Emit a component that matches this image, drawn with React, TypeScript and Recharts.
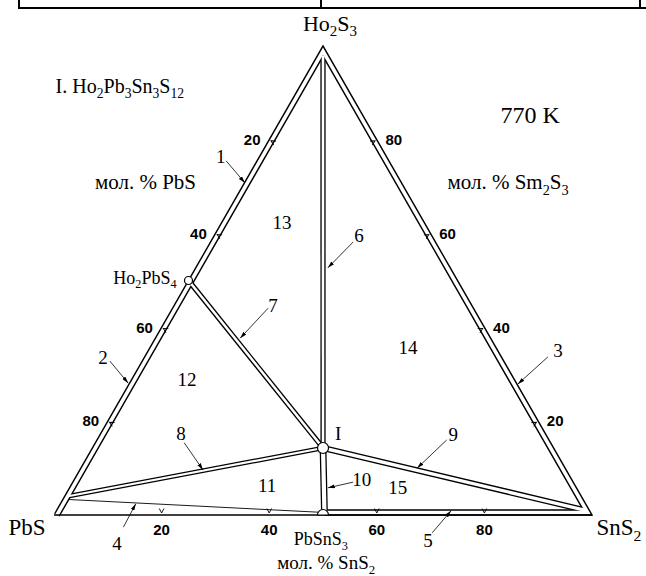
import { ScatterChart, Scatter, XAxis, YAxis } from 'recharts';

// compositions in mol %: [Ho2S3, SnS2], PbS is the rest
type Comp = [number, number];

const PHASE_I: Comp = [14.29, 42.86]; // Ho2Pb3Sn3S12
const HO2PBS4: Comp = [50, 0];
const PBSNS3: Comp = [0, 50];

const frameEdges: Comp[] = [[0, 0.54], [98.92, 0.54], [0.54, 98.92], [0.54, 50]];
const tie6: Comp[] = [[98, 1], PHASE_I];
const tie7: Comp[] = [HO2PBS4, PHASE_I];
const tie8: Comp[] = [[4, 0.6], PHASE_I];
const tie9: Comp[] = [PHASE_I, [1, 98.3]];
const tie10: Comp[] = [PHASE_I, [0.54, 50]];
const line4: Comp[] = [[3.3, 1.1], [0.6, 48.8]];
const baseEdge: Comp[] = [[0, 0], [0, 100]];

const tickValues = [20, 40, 60, 80];

// text placed in plot space (x: 0..100 along the base, y: 0..100 up to the apex)
const titles = [
  { text: 'Ho_2S_3', x: 51.3, y: 104.9, size: 22 },
  { text: 'I. Ho_2Pb_3Sn_3S_12', x: 0.3, y: 91.5, size: 20, anchor: 'start' },
  { text: '770 K', x: 88.5, y: 85.3, size: 24 },
  { text: 'мол. % PbS', x: 17.0, y: 71.0, size: 21 },
  { text: 'мол. % Sm_2S_3', x: 84.4, y: 71.0, size: 21 },
  { text: 'Ho_2PbS_4', x: 16.9, y: 50.7, size: 18 },
  { text: 'PbS', x: -5.0, y: -2.6, size: 23 },
  { text: 'SnS_2', x: 105.0, y: -2.6, size: 23 },
  { text: 'PbSnS_3', x: 49.6, y: -5.1, size: 18 },
  { text: 'мол. % SnS_2', x: 50.6, y: -10.1, size: 19 },
];

const numbers = [
  { text: '13', x: 42.4, y: 62.5 },
  { text: '14', x: 65.8, y: 35.8 },
  { text: '12', x: 24.7, y: 29.0 },
  { text: '11', x: 39.6, y: 6.4 },
  { text: '15', x: 63.9, y: 6.0 },
  { text: '1', x: 31.0, y: 76.5 },
  { text: '2', x: 9.1, y: 33.7 },
  { text: '3', x: 93.7, y: 35.2 },
  { text: '4', x: 11.7, y: -6.0 },
  { text: '5', x: 69.5, y: -5.3 },
  { text: '6', x: 56.7, y: 59.7 },
  { text: '7', x: 40.7, y: 44.8 },
  { text: '8', x: 23.6, y: 17.5 },
  { text: '9', x: 74.2, y: 17.1 },
  { text: '10', x: 57.2, y: 7.7 },
  { text: 'I', x: 52.8, y: 17.5 },
];

const leaders = [
  [{ x: 32.0, y: 75.5 }, { x: 35.5, y: 70.8 }],
  [{ x: 10.4, y: 32.8 }, { x: 13.8, y: 28.1 }],
  [{ x: 91.8, y: 33.7 }, { x: 86.2, y: 27.9 }],
  [{ x: 12.9, y: -2.6 }, { x: 15.2, y: 2.4 }],
  [{ x: 70.3, y: -3.8 }, { x: 73.8, y: 0.9 }],
  [{ x: 55.6, y: 58.2 }, { x: 50.9, y: 52.7 }],
  [{ x: 39.8, y: 44.1 }, { x: 34.6, y: 37.7 }],
  [{ x: 24.2, y: 15.4 }, { x: 27.7, y: 9.6 }],
  [{ x: 73.0, y: 16.0 }, { x: 67.5, y: 10.0 }],
  [{ x: 55.6, y: 7.0 }, { x: 50.9, y: 5.8 }],
];

const W = 646;
const H = 576;
const BOX = { left: 54, bottom: 515, width: 538, height: 469 };
const X_DOMAIN = [(-BOX.left / BOX.width) * 100, ((W - BOX.left) / BOX.width) * 100];
const Y_DOMAIN = [(-(H - BOX.bottom) / BOX.height) * 100, (BOX.bottom / BOX.height) * 100];

const SERIF = '"Liberation Serif", "Times New Roman", serif';
const SANS = '"Liberation Sans", Arial, sans-serif';

const toXY = ([ho, sn]: Comp) => ({ x: sn + ho / 2, y: ho });

const doubleLines = [
  { pts: frameEdges, outer: 6.5, inner: 3.6 },
  { pts: tie6, outer: 5.2, inner: 2.6 },
  { pts: tie7, outer: 5.2, inner: 2.6 },
  { pts: tie8, outer: 4.6, inner: 2.2 },
  { pts: tie9, outer: 6.0, inner: 3.4 },
  { pts: tie10, outer: 6.8, inner: 4.2 },
];

const ticks = [
  ...tickValues.map((v) => ({ ...toXY([100 - v, 0]), side: 'left', label: String(v) })),
  ...tickValues.map((v) => ({ ...toXY([v, 100 - v]), side: 'right', label: String(v) })),
  ...tickValues.map((v) => ({ ...toXY([0, v]), side: 'bottom', label: String(v) })),
];

const nodes = [
  { ...toXY(PHASE_I), kind: 'circle', r: 5.5 },
  { ...toXY(HO2PBS4), kind: 'circle', r: 4 },
  { ...toXY(PBSNS3), kind: 'dome', r: 5.5 },
];

const Nothing = () => <g />;

function Formula({ x, y, text, size, anchor = 'middle', family = SERIF, weight = 'normal' }: any) {
  const parts = text.split(/_(\d+)/);
  const shift = size * 0.25;
  return (
    <text x={x} y={y + size * 0.35} fontSize={size} fontFamily={family} fontWeight={weight} textAnchor={anchor} fill="#000">
      {parts.map((p: string, i: number) =>
        p === '' ? null : i % 2 ? (
          <tspan key={i} fontSize={size * 0.68} dy={shift}>{p}</tspan>
        ) : (
          <tspan key={i} dy={i > 0 ? -shift : 0}>{p}</tspan>
        )
      )}
    </text>
  );
}

const titleShape = (p: any) => (
  <Formula x={p.cx} y={p.cy} text={p.payload.text} size={p.payload.size} anchor={p.payload.anchor || 'middle'} />
);

const numberShape = (p: any) => <Formula x={p.cx} y={p.cy} text={p.payload.text} size={19} />;

const tickShape = (p: any) => {
  const side = p.payload.side;
  const angle = side === 'left' ? 120 : side === 'right' ? -120 : 0;
  return (
    <g transform={`translate(${p.cx},${p.cy}) rotate(${angle})`}>
      <path d="M-2.3,-6.5 L0,-2 L2.3,-6.5" fill="none" stroke="#000" strokeWidth={0.9} />
    </g>
  );
};

const tickLabelShape = (p: any) => {
  const side = p.payload.side;
  const dx = side === 'left' ? -17 : side === 'right' ? 17 : 0;
  const dy = side === 'bottom' ? 15 : 0;
  return <Formula x={p.cx + dx} y={p.cy + dy} text={p.payload.label} size={15} family={SANS} weight="bold" />;
};

const nodeShape = (p: any) => {
  const { cx, cy } = p;
  const { r, kind } = p.payload;
  if (kind === 'dome') {
    return <path d={`M${cx - r},${cy} A${r},${r} 0 0 1 ${cx + r},${cy} Z`} fill="#fff" stroke="#000" strokeWidth={1.2} />;
  }
  return <circle cx={cx} cy={cy} r={r} fill="#fff" stroke="#000" strokeWidth={1.2} />;
};

export default function App() {
  return (
    <div style={{ position: 'absolute', left: 0, top: 0, width: W, height: H, background: '#fff' }}>
      <svg width={0} height={0} style={{ position: 'absolute' }}>
        <defs>
          <marker id="arrowHead" viewBox="0 0 7 4" refX="7" refY="2" markerWidth="7" markerHeight="4" markerUnits="userSpaceOnUse" orient="auto">
            <path d="M0,0 L7,2 L0,4 z" fill="#000" />
          </marker>
        </defs>
      </svg>
      {/* cropped table border above the figure */}
      <div style={{ position: 'absolute', left: 18, top: 7, width: W - 18, height: 2, background: '#000' }} />
      <div style={{ position: 'absolute', left: 18, top: 0, width: 2, height: 9, background: '#000' }} />
      <div style={{ position: 'absolute', left: 320, top: 0, width: 2, height: 9, background: '#000' }} />
      <div style={{ position: 'absolute', left: 639, top: 0, width: 2, height: 9, background: '#000' }} />
      <ScatterChart width={W} height={H} margin={{ top: 0, right: 0, bottom: 0, left: 0 }}>
        <XAxis type="number" dataKey="x" domain={X_DOMAIN} hide />
        <YAxis type="number" dataKey="y" domain={Y_DOMAIN} hide />
        {doubleLines.map((l, i) => (
          <Scatter
            key={`outer-${i}`}
            data={l.pts.map(toXY)}
            line={{ stroke: '#000', strokeWidth: l.outer, strokeLinejoin: 'miter' }}
            shape={Nothing}
            isAnimationActive={false}
          />
        ))}
        {doubleLines.map((l, i) => (
          <Scatter
            key={`inner-${i}`}
            data={l.pts.map(toXY)}
            line={{ stroke: '#fff', strokeWidth: l.inner, strokeLinejoin: 'miter' }}
            shape={Nothing}
            isAnimationActive={false}
          />
        ))}
        <Scatter data={baseEdge.map(toXY)} line={{ stroke: '#000', strokeWidth: 1.4 }} shape={Nothing} isAnimationActive={false} />
        <Scatter data={line4.map(toXY)} line={{ stroke: '#000', strokeWidth: 0.9 }} shape={Nothing} isAnimationActive={false} />
        {leaders.map((l, i) => (
          <Scatter
            key={`leader-${i}`}
            data={l}
            line={{ stroke: '#000', strokeWidth: 0.8, markerEnd: 'url(#arrowHead)' }}
            shape={Nothing}
            isAnimationActive={false}
          />
        ))}
        <Scatter data={ticks} shape={tickShape} isAnimationActive={false} />
        <Scatter data={ticks} shape={tickLabelShape} isAnimationActive={false} />
        <Scatter data={nodes} shape={nodeShape} isAnimationActive={false} />
        <Scatter data={titles} shape={titleShape} isAnimationActive={false} />
        <Scatter data={numbers} shape={numberShape} isAnimationActive={false} />
      </ScatterChart>
    </div>
  );
}
